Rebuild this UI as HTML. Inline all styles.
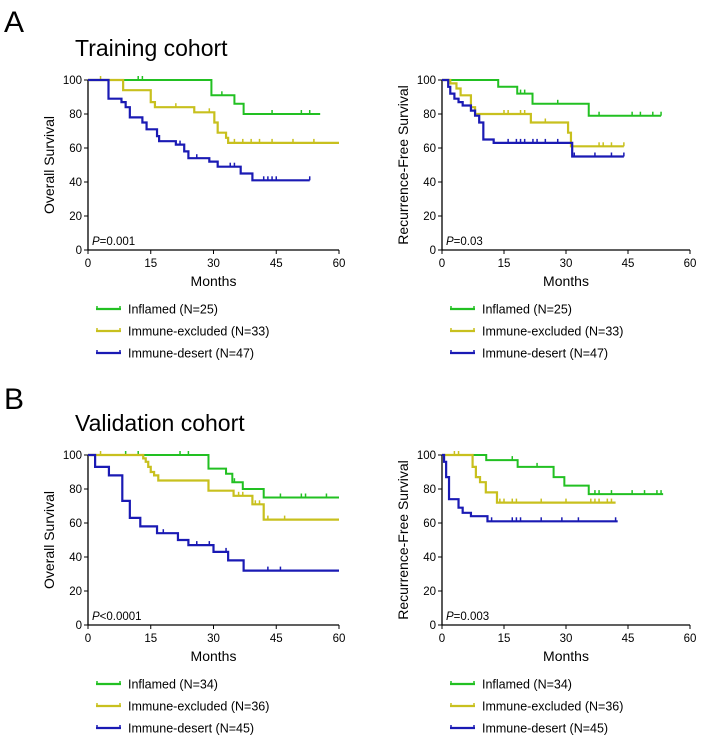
<!DOCTYPE html>
<html><head><meta charset="utf-8"><style>
body{margin:0;background:#fff}
svg{display:block;font-family:"Liberation Sans",Arial,sans-serif}
</style></head><body>
<svg id="fig" width="712" height="737" viewBox="0 0 712 737">
<text x="4" y="32" font-size="30">A</text>
<text x="75" y="56" font-size="23">Training cohort</text>
<text x="4" y="409" font-size="30">B</text>
<text x="75" y="431" font-size="23">Validation cohort</text>
</svg>
<script>
// ---- data: step change points [month] and survival [%], censor months, last month ----
const xTicks=[0,15,30,45,60];
const yTicks=[0,20,40,60,80,100];
const legendLabelsA=["Inflamed (N=25)","Immune-excluded (N=33)","Immune-desert (N=47)"];
const legendLabelsB=["Inflamed (N=34)","Immune-excluded (N=36)","Immune-desert (N=45)"];
const pValues=["=0.001","=0.03","<0.0001","=0.003"];

// Panel A-left (Training OS)
const aOsGreenT=[29.5,35,37.2]; const aOsGreenS=[91,86,80]; const aOsGreenC=[12,13,32,44,51,53]; const aOsGreenEnd=55.5;
const aOsYellowT=[8.4,15,16,25.4,30.2,31,33,33.5]; const aOsYellowS=[94,87,84,81,75,69,66,63]; const aOsYellowC=[3,21,29,35,37,39,41,44,49,54]; const aOsYellowEnd=60;
const aOsBlueT=[4.9,8,9,10,13,14,16.5,17,21,23,24,29,31,36.5,39.3]; const aOsBlueS=[89,87,84,78,75,71,67,64,62,58,54,52,49,45,41]; const aOsBlueC=[17,22,26,34,35,42,43,44,45,53]; const aOsBlueEnd=53;
// Panel A-right (Training RFS)
const aRfsGreenT=[13.6,18.2,21.9,35.5]; const aRfsGreenS=[96,92,86,79]; const aRfsGreenC=[19,20,28,38,46,48,51,53]; const aRfsGreenEnd=53;
const aRfsYellowT=[2,3.5,4.5,7,8,21.5,30.5,31.2]; const aRfsYellowS=[98,95,91,84,80,75,69,61]; const aRfsYellowC=[15,16,19,20,25,38,39,41,44]; const aRfsYellowEnd=44;
const aRfsBlueT=[1.5,2,3,4,5,7,8,9,10,12.5,31.5]; const aRfsBlueS=[96,92,89,87,85,82,79,75,65,63,55]; const aRfsBlueC=[16,18,19,20,22,23,25,28,32,37,41,44]; const aRfsBlueEnd=44;
// Panel B-left (Validation OS)
const bOsGreenT=[28.8,33,34.5,37,42]; const bOsGreenS=[92,89,84,80,75]; const bOsGreenC=[9,12,22,24,33,35,37,46,51,52,57]; const bOsGreenEnd=60;
const bOsYellowT=[13.2,13.8,14.4,15,15.8,16.8,28.8,34.8,39.3,42]; const bOsYellowS=[98,96,93,90,88,85,79,76,71,62]; const bOsYellowC=[3,36,37,40,41,43,47]; const bOsYellowEnd=60;
const bOsBlueT=[1.7,5,8.2,10,12.5,16.5,21.5,24,30,33.5,37.2]; const bOsBlueS=[93,88,73,63,58,54,50,47,43,38,32]; const bOsBlueC=[18,26,29,33,43,46]; const bOsBlueEnd=60;
// Panel B-right (Validation RFS)
const bRfsGreenT=[10.7,18.3,27,29.6,35.5]; const bRfsGreenS=[97,93,87,82,77]; const bRfsGreenC=[17,23,37,38,41,46,49,52,53]; const bRfsGreenEnd=53.5;
const bRfsYellowT=[7.4,8.2,9.2,10.6,13.3]; const bRfsYellowS=[93,87,84,78,72]; const bRfsYellowC=[3,4,14,15,17,18,24,30,36,37,38,40,41]; const bRfsYellowEnd=42;
const bRfsBlueT=[0.5,1,1.7,4,5,7,11]; const bRfsBlueS=[96,87,74,69,66,64,61]; const bRfsBlueC=[12,17,18,19,24,29,33,42]; const bRfsBlueEnd=42.5;

const NS='http://www.w3.org/2000/svg';
const svg=document.getElementById('fig');
const COLORS=['#22c022','#c8c01e','#1a1ab4'];
function mk(tag,attrs,parent){const e=document.createElementNS(NS,tag);for(const k in attrs)e.setAttribute(k,attrs[k]);(parent||svg).appendChild(e);return e;}

function panel(id,x0,x60,y0,y100,yTitle,p,series,legend){
  const sx=m=>x0+(x60-x0)*m/60, sy=v=>y0+(y100-y0)*v/100;
  const g=mk('g',{});
  
  
  mk('line',{x1:x0,y1:y0,x2:x0,y2:y100,stroke:'#000','stroke-width':1.3},g);
  mk('line',{x1:x0,y1:y0,x2:x60,y2:y0,stroke:'#000','stroke-width':1.3},g);
  yTicks.forEach(v=>{mk('line',{x1:x0-4,y1:sy(v),x2:x0,y2:sy(v),stroke:'#000'},g);
    const t=mk('text',{x:x0-6,y:sy(v)+4,'font-size':11.5,'text-anchor':'end'},g);t.textContent=v;
    
    });
  xTicks.forEach(v=>{mk('line',{x1:sx(v),y1:y0,x2:sx(v),y2:y0+4,stroke:'#000'},g);
    const t=mk('text',{x:sx(v),y:y0+17,'font-size':11.5,'text-anchor':'middle'},g);t.textContent=v;
    
    });
  const xt=mk('text',{x:(x0+x60)/2,y:y0+36,'font-size':14,'text-anchor':'middle'},g);xt.textContent='Months';
  
  
  const yt=mk('text',{x:0,y:0,'font-size':14,'text-anchor':'middle',transform:`translate(${x0-34},${(y0+y100)/2}) rotate(-90)`},g);yt.textContent=yTitle;
  
  
  const pt=mk('text',{x:x0+4,y:y0-5,'font-size':11.5},g);
  
  
  const pi=mk('tspan',{'font-style':'italic'},pt);pi.textContent='P';
  const pr=mk('tspan',{},pt);pr.textContent=p;
  series.forEach((s,i)=>{
    const [T,S,C,end]=s;
    let d=`M${sx(0)},${sy(100)}`;let cur=100;
    T.forEach((t,j)=>{d+=`H${sx(t)}V${sy(S[j])}`;cur=S[j];});
    d+=`H${sx(end)}`;
    const path=mk('path',{d:d,fill:'none',stroke:COLORS[i],'stroke-width':i==0?2:2.2},g);
    
    
    C.forEach(c=>{let v=100;T.forEach((t,j)=>{if(t<=c)v=S[j];});
      const m=mk('line',{x1:sx(c),y1:sy(v),x2:sx(c),y2:sy(v)-4,stroke:COLORS[i],'stroke-width':1.5},g);
      
      });
  });
  legend.forEach((l,i)=>{const ly=y0+59+i*22;const lx=x0+8;
    mk('line',{x1:lx,y1:ly,x2:lx+25,y2:ly,stroke:COLORS[i],'stroke-width':2.2},g);
    mk('line',{x1:lx+1,y1:ly-3,x2:lx+1,y2:ly+1,stroke:COLORS[i],'stroke-width':1.5},g);
    mk('line',{x1:lx+24,y1:ly-3,x2:lx+24,y2:ly+1,stroke:COLORS[i],'stroke-width':1.5},g);
    const t=mk('text',{x:lx+32,y:ly+4.5,'font-size':12.5},g);t.textContent=l;
    
    });
}
panel('training-os-chart',88,339,250,80,'Overall Survival',pValues[0],
 [[aOsGreenT,aOsGreenS,aOsGreenC,aOsGreenEnd],[aOsYellowT,aOsYellowS,aOsYellowC,aOsYellowEnd],[aOsBlueT,aOsBlueS,aOsBlueC,aOsBlueEnd]],legendLabelsA);
panel('training-rfs-chart',442,690,250,80,'Recurrence-Free Survival',pValues[1],
 [[aRfsGreenT,aRfsGreenS,aRfsGreenC,aRfsGreenEnd],[aRfsYellowT,aRfsYellowS,aRfsYellowC,aRfsYellowEnd],[aRfsBlueT,aRfsBlueS,aRfsBlueC,aRfsBlueEnd]],legendLabelsA);
panel('validation-os-chart',88,339,625,455,'Overall Survival',pValues[2],
 [[bOsGreenT,bOsGreenS,bOsGreenC,bOsGreenEnd],[bOsYellowT,bOsYellowS,bOsYellowC,bOsYellowEnd],[bOsBlueT,bOsBlueS,bOsBlueC,bOsBlueEnd]],legendLabelsB);
panel('validation-rfs-chart',442,690,625,455,'Recurrence-Free Survival',pValues[3],
 [[bRfsGreenT,bRfsGreenS,bRfsGreenC,bRfsGreenEnd],[bRfsYellowT,bRfsYellowS,bRfsYellowC,bRfsYellowEnd],[bRfsBlueT,bRfsBlueS,bRfsBlueC,bRfsBlueEnd]],legendLabelsB);
</script>
</body></html>
